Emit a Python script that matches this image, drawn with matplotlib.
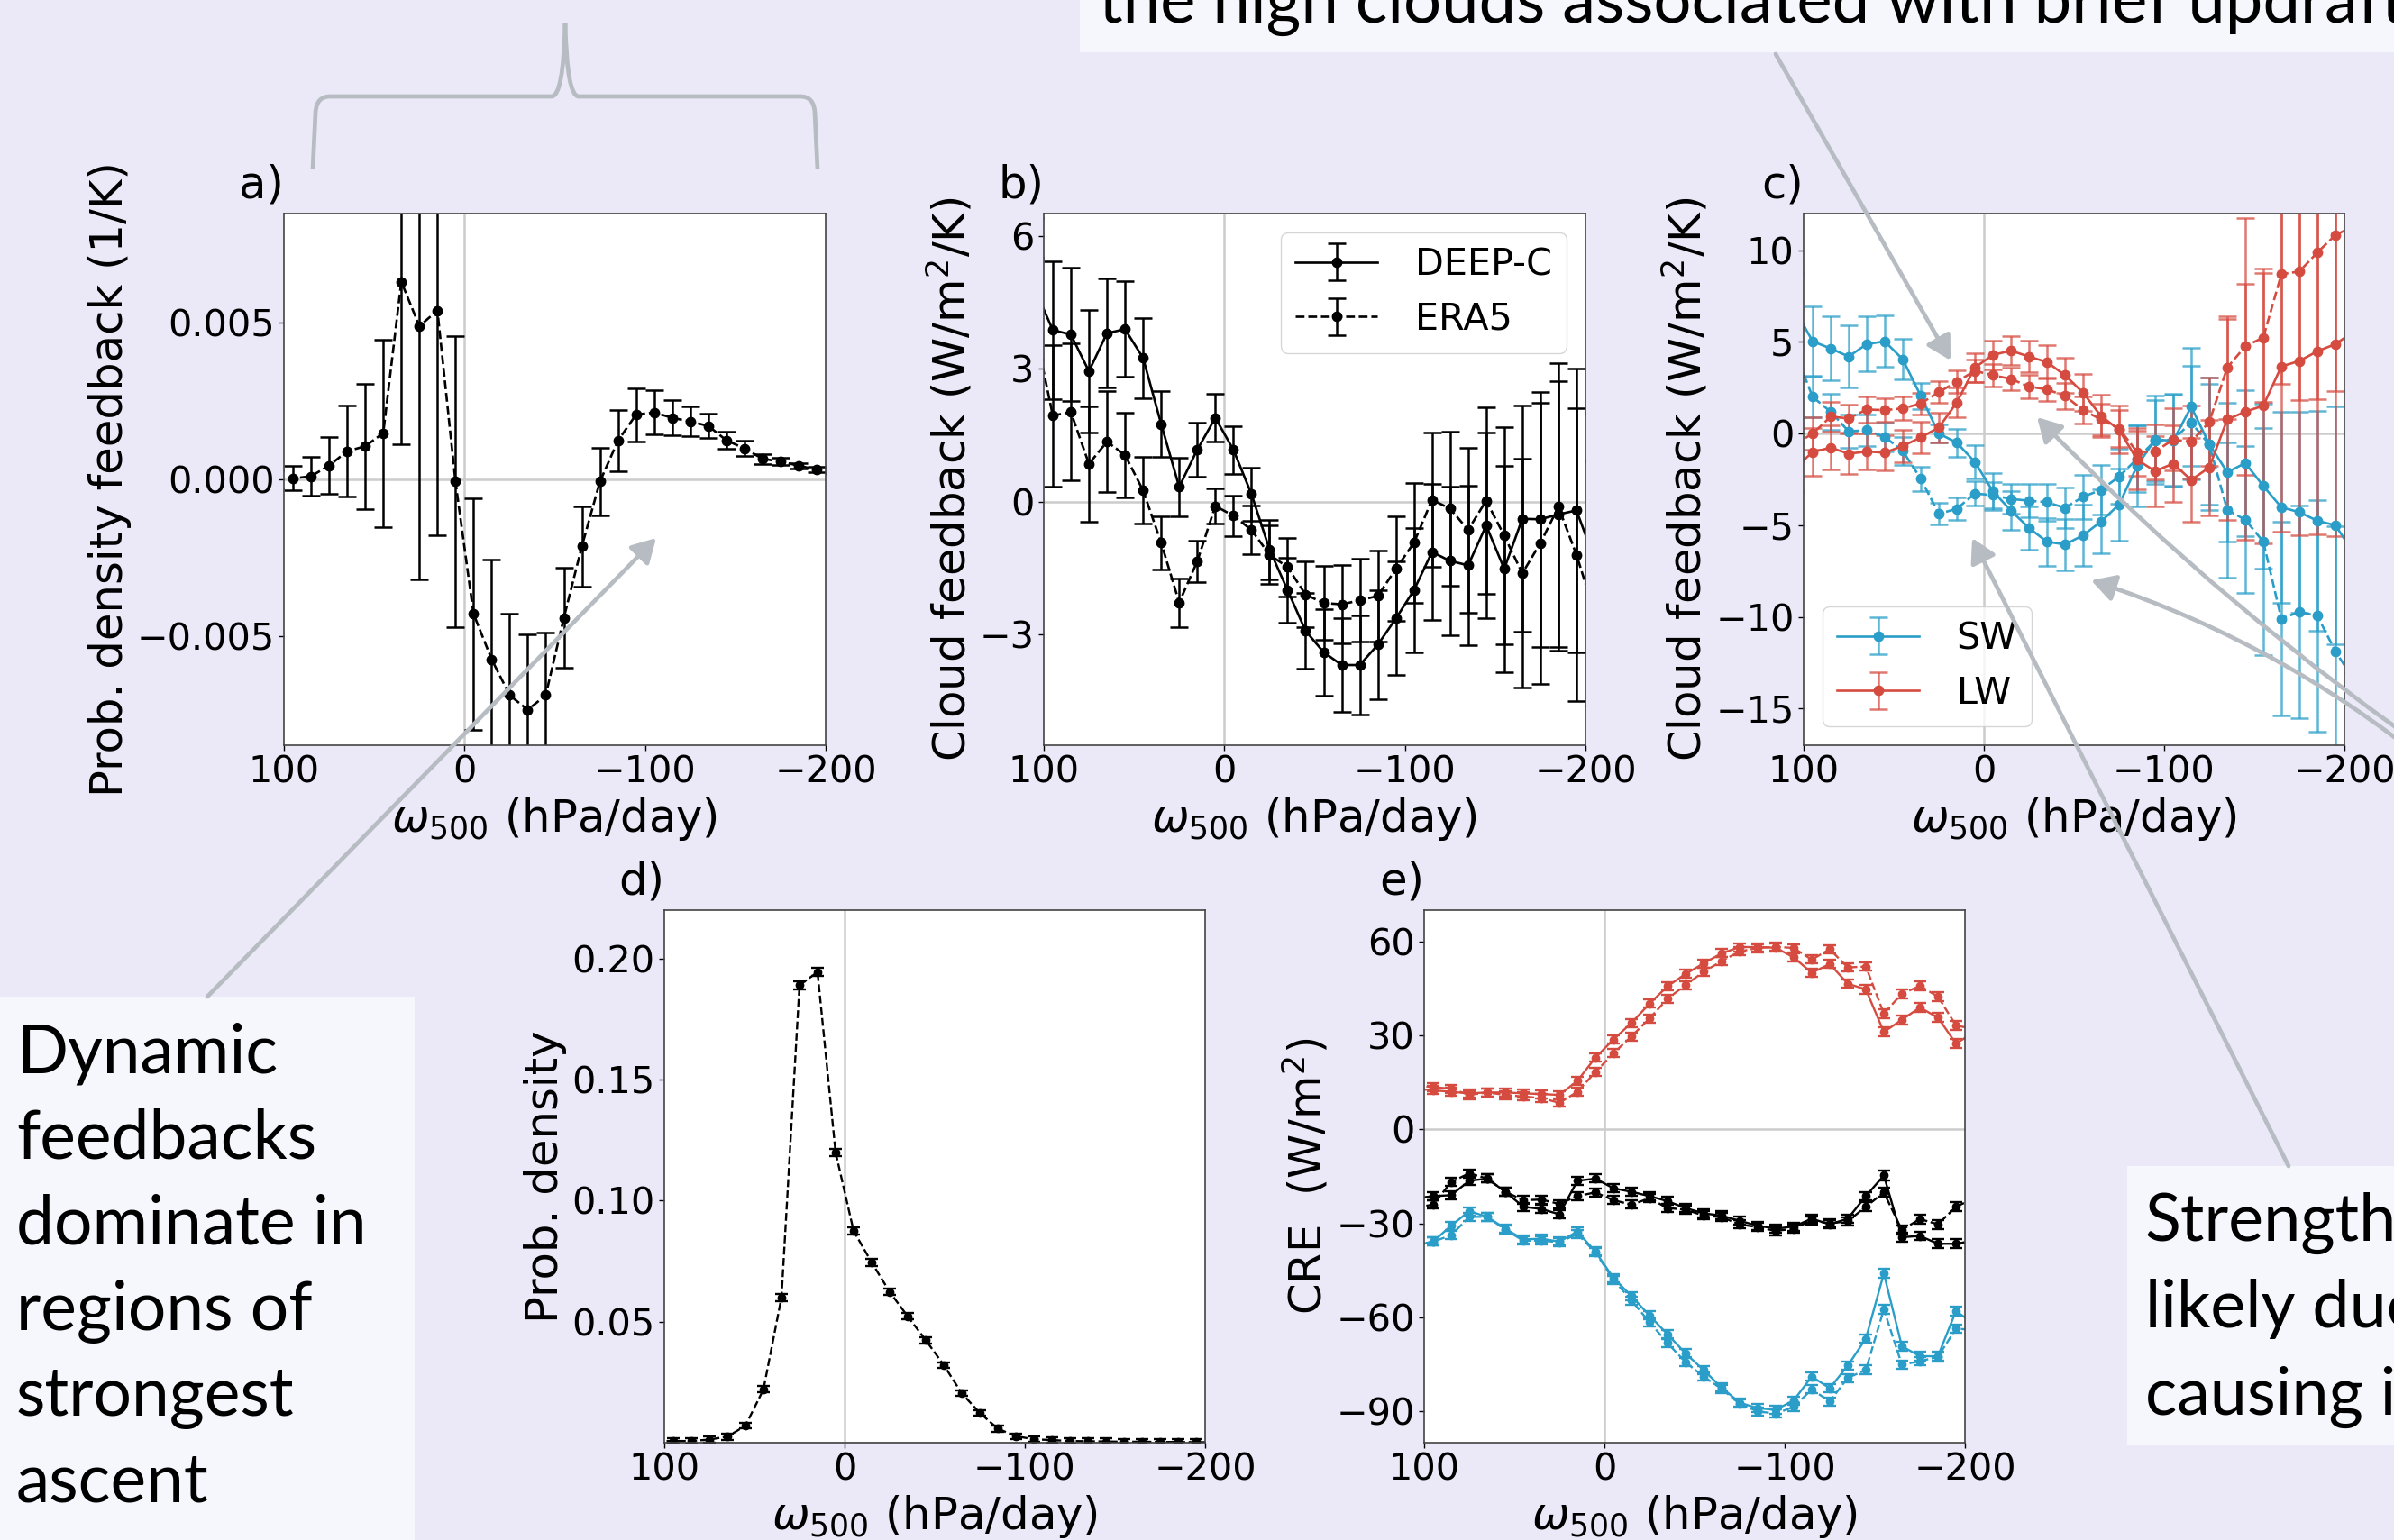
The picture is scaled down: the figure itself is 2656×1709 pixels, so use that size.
import numpy as np
import matplotlib
matplotlib.use('Agg')
import matplotlib.pyplot as plt
from matplotlib.colors import to_rgba
from matplotlib.patches import FancyArrowPatch, Rectangle, PathPatch
from matplotlib.path import Path

# omega_500 bin centres (hPa/day); outer bins fall just outside the axes
omega = [105, 95, 85, 75, 65, 55, 45, 35, 25, 15, 5, -5, -15, -25, -35, -45,
         -55, -65, -75, -85, -95, -105, -115, -125, -135, -145, -155, -165,
         -175, -185, -195, -205]

# a) probability density feedback (1/K)
pdf_fb = [0.0, 0.00003, 0.0001, 0.00044, 0.0009, 0.00106, 0.00148, 0.00632,
          0.0049, 0.0054, -0.00007, -0.0043, -0.00575, -0.0069, -0.00737,
          -0.0069, -0.00443, -0.00214, -0.00007, 0.00124, 0.00207, 0.00214,
          0.00197, 0.00185, 0.00171, 0.00125, 0.00099, 0.00066, 0.00057,
          0.00044, 0.00031, 0.00025]
pdf_fb_err = [0.0003, 0.00039, 0.00063, 0.0009, 0.00145, 0.002, 0.003, 0.0052,
              0.0081, 0.0072, 0.00465, 0.0037, 0.0032, 0.0026, 0.0024, 0.002,
              0.0016, 0.00128, 0.00108, 0.00098, 0.00085, 0.0007, 0.00056,
              0.00047, 0.00038, 0.00028, 0.00024, 0.00016, 0.00012, 0.00009,
              0.00008, 0.00007]

# b) total cloud feedback (W/m2/K)
fb_deepc = [4.8, 3.87, 3.77, 2.94, 3.80, 3.89, 3.24, 1.75, 0.33, 1.17, 1.89,
            1.17, 0.17, -1.08, -2.0, -2.92, -3.4, -3.69, -3.69, -3.23, -2.64,
            -2.0, -1.14, -1.34, -1.44, -0.54, -1.52, -0.39, -0.40, -0.29,
            -0.20, -1.3]
fb_deepc_err = [1.6, 1.56, 1.5, 1.39, 1.23, 1.08, 0.9, 0.74, 0.66, 0.61, 0.54,
                0.54, 0.6, 0.67, 0.74, 0.86, 0.98, 1.05, 1.12, 1.23, 1.28,
                1.41, 1.53, 1.68, 1.8, 2.1, 2.33, 2.55, 2.88, 3.0, 3.2, 3.3]
fb_era5 = [3.9, 1.94, 2.02, 0.85, 1.35, 1.05, 0.25, -0.93, -2.28, -1.35, -0.1,
           -0.32, -0.64, -1.2, -1.48, -2.1, -2.29, -2.32, -2.23, -2.13, -1.52,
           -0.93, 0.04, -0.16, -0.64, 0.02, -0.77, -1.62, -0.94, -0.12, -1.2,
           -2.5]
fb_era5_err = [1.6, 1.6, 1.55, 1.3, 1.14, 0.95, 0.75, 0.6, 0.55, 0.46, 0.4,
               0.46, 0.55, 0.66, 0.66, 0.74, 0.84, 0.88, 0.94, 1.03, 1.18,
               1.35, 1.52, 1.73, 1.86, 2.1, 2.45, 2.58, 3.17, 3.25, 3.3, 3.4]

# c) SW / LW cloud feedback (W/m2/K)
sw_deepc = [6.8, 5.03, 4.64, 4.2, 4.88, 5.03, 4.05, 2.05, 0.0, -0.5, -1.55,
            -3.15, -4.2, -5.15, -5.9, -6.05, -5.55, -4.8, -3.87, -1.76, -0.33,
            -0.39, 1.46, -0.57, -2.11, -1.61, -2.86, -4.02, -4.29, -4.76, -5.0,
            -6.5]
sw_deepc_err = [2.0, 1.9, 1.75, 1.7, 1.5, 1.4, 1.1, 0.7, 0.5, 0.75, 0.9, 1.0,
                1.05, 1.2, 1.3, 1.4, 1.65, 1.75, 1.95, 2.2, 2.4, 2.5, 3.2, 3.6,
                3.8, 4.0, 4.5, 5.2, 5.5, 6.0, 6.5, 6.5]
sw_era5 = [4.5, 2.0, 1.19, 0.12, 0.18, -0.18, -0.95, -2.47, -4.38, -4.1, -3.27,
           -3.36, -3.57, -3.66, -3.75, -4.05, -3.45, -3.07, -2.35, -1.37,
           -0.39, -0.33, 0.6, -0.6, -4.17, -4.7, -5.9, -10.1, -9.73, -9.94,
           -11.88, -13.4]
sw_era5_err = [1.2, 1.1, 1.0, 0.9, 0.85, 0.8, 0.75, 0.65, 0.6, 0.6, 0.65, 0.7,
               0.8, 0.9, 1.0, 1.1, 1.2, 1.35, 1.5, 1.8, 2.2, 2.5, 3.1, 3.3,
               3.7, 4.0, 6.2, 5.3, 5.8, 6.3, 6.8, 7.0]
lw_deepc = [-1.9, -1.01, -0.77, -1.1, -0.98, -1.04, -0.68, -0.21, 0.33, 1.7,
            3.6, 4.29, 4.52, 4.2, 3.9, 3.18, 2.23, 0.95, 0.21, -1.43, -2.05,
            -1.64, -2.53, -1.85, 0.77, 1.19, 1.52, 3.66, 3.96, 4.49, 4.88, 5.55]
lw_deepc_err = [1.3, 1.3, 1.2, 1.1, 1.0, 0.95, 0.9, 0.85, 0.8, 0.8, 0.8, 0.8,
                0.8, 0.85, 0.9, 0.95, 1.0, 1.15, 1.3, 1.6, 1.9, 2.1, 2.3, 2.6,
                5.5, 7.0, 7.5, 9.0, 9.5, 10.0, 10.5, 11.0]
lw_era5 = [-0.6, 0.0, 0.92, 0.83, 1.31, 1.28, 1.37, 1.64, 2.26, 2.83, 3.42,
           3.18, 2.98, 2.56, 2.41, 2.05, 1.28, 0.77, 0.27, -1.01, -0.98, -0.33,
           -0.45, 0.63, 3.6, 4.76, 5.24, 8.69, 8.84, 9.88, 10.83, 11.3]
lw_era5_err = [0.9, 0.9, 0.8, 0.75, 0.7, 0.65, 0.65, 0.6, 0.6, 0.6, 0.6, 0.6,
               0.6, 0.65, 0.65, 0.7, 0.75, 0.85, 1.0, 1.3, 1.5, 1.7, 2.0, 2.4,
               2.8, 7.0, 3.5, 6.0, 7.0, 8.0, 8.5, 9.0]

# d) probability density of omega_500
pdf = [0.0006, 0.0007, 0.0007, 0.0013, 0.0025, 0.007, 0.022, 0.060, 0.189,
       0.1944, 0.120, 0.0875, 0.0745, 0.0623, 0.0522, 0.0424, 0.0321, 0.0204,
       0.0123, 0.0058, 0.0027, 0.0014, 0.0011, 0.0007, 0.0006, 0.0005, 0.0004,
       0.0004, 0.0003, 0.0003, 0.0002, 0.0002]
pdf_err = [0.0012, 0.0012, 0.0012, 0.0012, 0.0012, 0.0012, 0.0013, 0.0014,
           0.0016, 0.0016, 0.0015, 0.0014, 0.0014, 0.0013, 0.0013, 0.0013,
           0.0012, 0.0012, 0.0012, 0.0012, 0.0012, 0.0012, 0.0012, 0.0012,
           0.0012, 0.0012, 0.0012, 0.0012, 0.0012, 0.0012, 0.0012, 0.0012]

# e) cloud radiative effect (W/m2)
lw_cre_deepc = [13.0, 12.5, 12.0, 11.5, 11.8, 11.8, 11.5, 11.3, 11.0, 15.5,
                22.9, 28.7, 34.0, 40.1, 45.7, 49.6, 53.0, 56.2, 58.2, 58.2,
                58.0, 54.9, 50.0, 52.8, 46.5, 44.7, 31.1, 35.0, 38.9, 35.7,
                27.4, 31.0]
lw_cre_era5 = [14.0, 13.5, 13.0, 11.0, 11.8, 11.0, 10.5, 10.0, 8.5, 12.0, 18.3,
               24.3, 29.7, 35.4, 41.7, 46.1, 50.3, 53.7, 56.8, 57.9, 58.3,
               57.9, 54.2, 57.5, 51.7, 52.0, 37.0, 43.3, 45.8, 42.4, 33.2, 32.0]
net_cre_deepc = [-22.0, -21.3, -21.0, -16.4, -15.7, -19.9, -24.7, -25.4, -27.1,
                 -16.4, -15.7, -18.8, -19.9, -21.3, -22.9, -25.1, -26.8, -27.5,
                 -29.2, -30.7, -31.7, -31.0, -28.5, -30.3, -28.5, -21.3, -14.7,
                 -34.4, -34.0, -36.5, -36.5, -35.5]
net_cre_era5 = [-25.0, -24.0, -16.8, -14.0, -15.7, -19.9, -22.6, -22.4, -23.8,
                -21.3, -20.1, -22.6, -24.0, -22.0, -25.1, -25.6, -27.5, -28.0,
                -30.3, -31.2, -32.4, -31.7, -29.0, -30.0, -29.3, -24.7, -20.1,
                -32.1, -28.6, -30.3, -24.7, -22.0]
sw_cre_deepc = [-37.0, -35.8, -30.7, -26.1, -27.9, -31.7, -35.1, -34.9, -35.8,
                -32.6, -39.0, -47.4, -53.2, -59.4, -65.4, -71.5, -76.8, -82.4,
                -87.2, -89.0, -89.5, -86.5, -78.9, -82.6, -75.4, -66.8, -46.0,
                -69.2, -72.4, -72.4, -58.0, -62.0]
sw_cre_era5 = [-37.0, -35.8, -33.8, -27.9, -27.9, -32.0, -35.5, -35.5, -36.0,
               -33.4, -39.2, -48.0, -54.6, -61.5, -68.2, -74.3, -78.9, -82.8,
               -87.6, -90.0, -90.7, -88.6, -83.0, -86.8, -79.3, -76.8, -57.4,
               -75.1, -74.0, -72.6, -63.6, -64.0]
cre_err = [1.3, 1.3, 1.3, 1.3, 1.3, 1.3, 1.3, 1.3, 1.3, 1.3, 1.3, 1.3, 1.3,
           1.3, 1.3, 1.3, 1.3, 1.3, 1.3, 1.3, 1.3, 1.3, 1.3, 1.3, 1.3, 1.4,
           1.5, 1.4, 1.4, 1.4, 1.4, 1.4]

W, H = 2656, 1709
BG = '#ebe9f8'
BOX = '#f6f6fd'
GREY = '#b6bcc1'
RED = '#d64b40'
BLUE = '#2a9ec8'
TICK = 29.8
LABEL = 35.8

fig = plt.figure(figsize=(W / 100, H / 100), dpi=100, facecolor=BG)


def fx(x):
    return x / W


def fy(y):
    return 1 - y / H


def panel(left, right, top, bottom, tag):
    ax = fig.add_axes([fx(left), fy(bottom), (right - left) / W, (bottom - top) / H])
    ax.set_xlim(100, -200)
    ax.set_xticks([100, 0, -100, -200])
    ax.axhline(0, color='#cccccc', lw=1.8, zorder=0)
    ax.axvline(0, color='#cccccc', lw=1.8, zorder=0)
    ax.set_xlabel(r'$\omega_{500}$ (hPa/day)', fontsize=LABEL)
    ax.tick_params(labelsize=TICK, length=4, width=1)
    for s in ax.spines.values():
        s.set_linewidth(1.2)
        s.set_color('#444444')
    ax.text(0, 1.03, tag, transform=ax.transAxes, ha='right', va='baseline',
            fontsize=LABEL)
    return ax


big = dict(ms=7.5, lw=1.9, elinewidth=1.8, capsize=7, capthick=1.8, marker='o')
small = dict(ms=6, lw=1.7, elinewidth=1.7, capsize=5, capthick=1.7, marker='o')

# a)
ax = panel(315, 916, 237, 827, 'a)')
ax.errorbar(omega, pdf_fb, yerr=pdf_fb_err, color='k', ls='--', **big)
ax.set_ylim(-0.0085, 0.0085)
ax.set_yticks([-0.005, 0.0, 0.005])
ax.set_yticklabels(['\u22120.005', '0.000', '0.005'])
ax.set_ylabel('Prob. density feedback (1/K)', fontsize=LABEL)

# b)
ax = panel(1158, 1759, 237, 827, 'b)')
ax.errorbar(omega, fb_deepc, yerr=fb_deepc_err, color='k', ls='-', label='DEEP-C', **big)
ax.errorbar(omega, fb_era5, yerr=fb_era5_err, color='k', ls='--', label='ERA5', **big)
ax.set_ylim(-5.5, 6.5)
ax.set_yticks([-3, 0, 3, 6])
ax.set_ylabel('Cloud feedback (W/m$^2$/K)', fontsize=LABEL)
ax.legend(loc='upper right', fontsize=TICK, handlelength=2.2, handletextpad=1.0)

# c)
ax = panel(2001, 2601, 237, 827, 'c)')
h_sw = ax.errorbar(omega, sw_deepc, yerr=sw_deepc_err, color=BLUE,
                   ecolor=to_rgba(BLUE, 0.75), ls='-', label='SW', **big)
ax.errorbar(omega, sw_era5, yerr=sw_era5_err, color=BLUE,
            ecolor=to_rgba(BLUE, 0.75), ls='--', **big)
h_lw = ax.errorbar(omega, lw_deepc, yerr=lw_deepc_err, color=RED,
                   ecolor=to_rgba(RED, 0.75), ls='-', label='LW', **big)
ax.errorbar(omega, lw_era5, yerr=lw_era5_err, color=RED,
            ecolor=to_rgba(RED, 0.75), ls='--', **big)
ax.set_ylim(-17, 12)
ax.set_yticks([-15, -10, -5, 0, 5, 10])
ax.set_ylabel('Cloud feedback (W/m$^2$/K)', fontsize=LABEL)
ax.legend(handles=[h_sw, h_lw], loc='lower left', fontsize=TICK,
          handlelength=2.2, handletextpad=1.0)

# d)
ax = panel(737, 1337, 1010, 1601, 'd)')
ax.errorbar(omega, pdf, yerr=pdf_err, color='k', ls='--', **small)
ax.set_ylim(0, 0.22)
ax.set_yticks([0.05, 0.10, 0.15, 0.20])
ax.set_ylabel('Prob. density', fontsize=LABEL)

# e)
ax = panel(1580, 2180, 1010, 1601, 'e)')
ax.errorbar(omega, lw_cre_deepc, yerr=cre_err, color=RED, ls='-', **small)
ax.errorbar(omega, lw_cre_era5, yerr=cre_err, color=RED, ls='--', **small)
ax.errorbar(omega, net_cre_deepc, yerr=cre_err, color='k', ls='-', **small)
ax.errorbar(omega, net_cre_era5, yerr=cre_err, color='k', ls='--', **small)
ax.errorbar(omega, sw_cre_deepc, yerr=cre_err, color=BLUE, ls='-', **small)
ax.errorbar(omega, sw_cre_era5, yerr=cre_err, color=BLUE, ls='--', **small)
ax.set_ylim(-100, 70)
ax.set_yticks([-90, -60, -30, 0, 30, 60])
ax.set_ylabel('CRE  (W/m$^2$)', fontsize=LABEL)

# slide text boxes
for (x0, y0, x1, y1) in [(0, 1106, 460, 1740), (1198, -40, 2700, 58),
                         (2360, 1294, 2700, 1604)]:
    fig.add_artist(Rectangle((fx(x0), fy(y1)), (x1 - x0) / W, (y1 - y0) / H,
                             transform=fig.transFigure, facecolor=BOX,
                             edgecolor='none', zorder=5))

left_lines = ['Dynamic', 'feedbacks', 'dominate in', 'regions of', 'strongest', 'ascent']
for i, t in enumerate(left_lines):
    fig.text(fx(18), fy(1190 + i * 95.3), t, family='Lato', fontsize=54,
             va='baseline', zorder=6)
fig.text(fx(1219), fy(25), 'the high clouds associated with brief updrafts',
         family='Lato', fontsize=53.5, va='baseline', zorder=6)
right_lines = ['Strength', 'likely due', 'causing i']
for i, t in enumerate(right_lines):
    fig.text(fx(2380), fy(1377 + i * 96.5), t, family='Lato', fontsize=53,
             va='baseline', zorder=6)

# curly brace over panel a
brace = [(347, 188), (350, 125), (351, 107), (366, 107), (612, 107), (625, 107),
         (627, 26), (629, 107), (642, 107), (888, 107), (903, 107), (904, 125),
         (907, 188)]
codes = [Path.MOVETO, Path.LINETO, Path.CURVE3, Path.CURVE3, Path.LINETO,
         Path.CURVE3, Path.CURVE3, Path.CURVE3, Path.CURVE3, Path.LINETO,
         Path.CURVE3, Path.CURVE3, Path.LINETO]
bpath = Path([(fx(x), fy(y)) for x, y in brace], codes)
fig.add_artist(PathPatch(bpath, transform=fig.transFigure, facecolor='none',
                         edgecolor=GREY, lw=3.4, zorder=10))

# annotation arrows
arrows = [((230, 1106), (728, 597), 0.0),
          ((1970, 60), (2164, 400), 0.0),
          ((2539, 1294), (2188, 597), 0.0),
          ((2720, 851), (2260, 463), -0.05),
          ((2720, 869), (2320, 644), 0.1)]
for (x0, y0), (x1, y1), rad in arrows:
    fig.add_artist(FancyArrowPatch((fx(x0), fy(y0)), (fx(x1), fy(y1)),
                                   transform=fig.transFigure,
                                   arrowstyle='-|>,head_length=0.8,head_width=0.45',
                                   mutation_scale=20, color=GREY, lw=3.4,
                                   connectionstyle=f'arc3,rad={rad}',
                                   shrinkA=0, shrinkB=0, zorder=10))

fig.savefig('out.png', dpi=100, facecolor=BG)
